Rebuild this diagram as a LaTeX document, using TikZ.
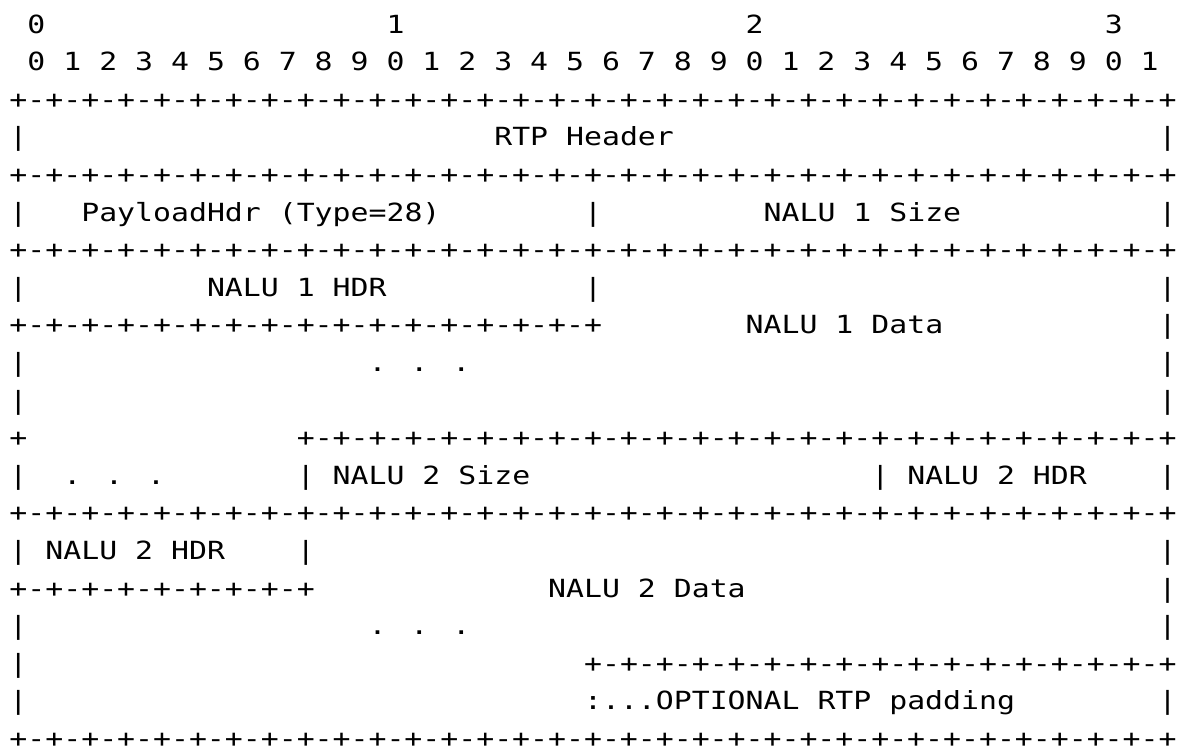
\documentclass[tikz,border=0pt]{standalone}
\usepackage{fontspec}
\usepackage{tikz}
\newfontfamily\pktfont{DejaVu Sans Mono}[FakeStretch=1.193]
% one row of the packet grid: +-+-...-+
\newcommand\pktrule[1]{+\foreach \i in {1,...,#1}{-+}}
\tikzset{
  cell/.style={anchor=base west, inner sep=0pt, outer sep=0pt,
    font=\pktfont\fontsize{12.5pt}{15pt}\selectfont},
}

\begin{document}
\begin{tikzpicture}[x=8.978pt, y=-18.8pt]
  \fill[white] (-4.75pt,16.5pt) rectangle (586.25pt,-359pt);
  \useasboundingbox (-4.75pt,16.5pt) rectangle (586.25pt,-359pt);

  % bit ruler
  \foreach \d in {0,...,3}
    \node[cell] (dec\d) at (20*\d+1,0) {\d};
  \node[cell] (bits) at (1,1) {0 1 2 3 4 5 6 7 8 9 0 1 2 3 4 5 6 7 8 9 0 1 2 3 4 5 6 7 8 9 0 1};

  % full rules
  \foreach \r in {2,4,6,13,19}
    \node[cell] (rule\r) at (0,\r) {\pktrule{32}};
  % partial rules
  \node[cell] (rule8) at (0,8) {\pktrule{16}};
  \node[cell] (plus11) at (0,11) {+};
  \node[cell] (rule11) at (16,11) {\pktrule{24}};
  \node[cell] (rule15) at (0,15) {\pktrule{8}};
  \node[cell] (rule17) at (32,17) {\pktrule{16}};

  % side bars
  \foreach \r in {3,5,7,9,10,12,14,16,17,18}
    \node[cell] (lbar\r) at (0,\r) {|};
  \foreach \r in {3,5,7,8,9,10,12,14,15,16,18}
    \node[cell] (rbar\r) at (64,\r) {|};
  % inner bars
  \node[cell] (mbar5) at (32,5) {|};
  \node[cell] (mbar7) at (32,7) {|};
  \node[cell] (abar12) at (16,12) {|};
  \node[cell] (bbar12) at (48,12) {|};
  \node[cell] (abar14) at (16,14) {|};

  % fields
  \node[cell] (rtphdr) at (27,3) {RTP Header};
  \node[cell] (plhdr) at (4,5) {PayloadHdr (Type=28)};
  \node[cell] (nasize) at (42,5) {NALU 1 Size};
  \node[cell] (nahdr) at (11,7) {NALU 1 HDR};
  \node[cell] (nadata) at (41,8) {NALU 1 Data};
  \node[cell] (nadots) at (20,9) {. . .};
  \node[cell] (tail) at (3,12) {. . .};
  \node[cell] (nbsize) at (18,12) {NALU 2 Size};
  \node[cell] (nbhdr) at (50,12) {NALU 2 HDR};
  \node[cell] (nbhdrb) at (2,14) {NALU 2 HDR};
  \node[cell] (nbdata) at (30,15) {NALU 2 Data};
  \node[cell] (nbdots) at (20,16) {. . .};
  \node[cell] (pad) at (32,18) {:...OPTIONAL RTP padding};
\end{tikzpicture}
\end{document}
